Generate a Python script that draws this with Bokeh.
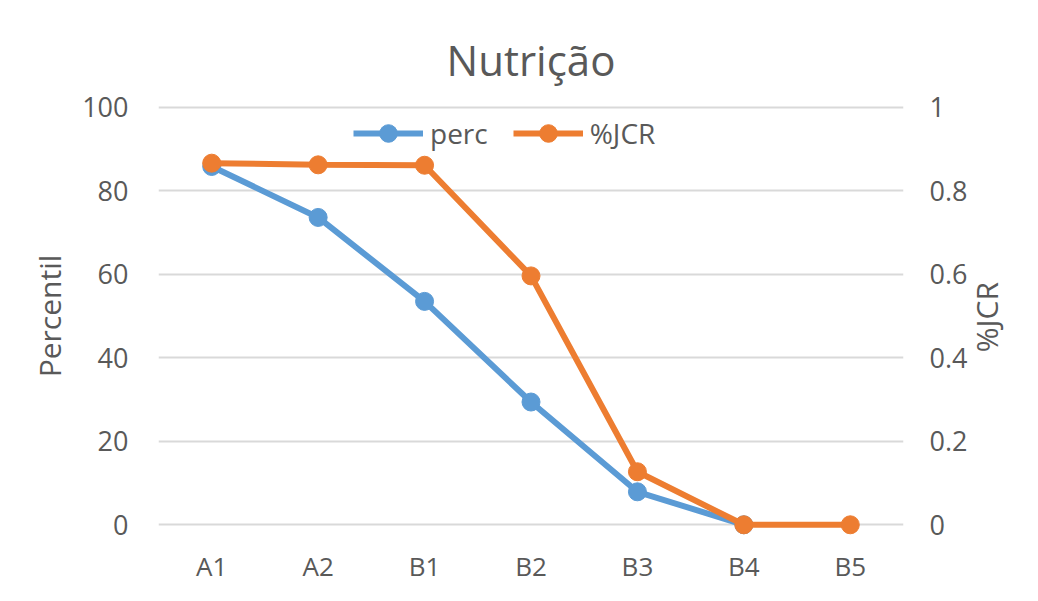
import math
from bokeh.plotting import figure
from bokeh.models import (Range1d, LinearAxis, FixedTicker, CustomJSTickFormatter,
                          Legend, LegendItem, ColumnDataSource)
from bokeh.embed import file_html
from bokeh.resources import INLINE

categories = ["A1", "A2", "B1", "B2", "B3", "B4", "B5"]
perc_cats = ["A1", "A2", "B1", "B2", "B3", "B4"]
perc = [85.8, 73.6, 53.5, 29.4, 7.9, 0.0]
jcr_cats = ["A1", "A2", "B1", "B2", "B3", "B4", "B5"]
jcr = [0.866, 0.862, 0.861, 0.596, 0.127, 0.0, 0.0]
left_ticks = [0, 20, 40, 60, 80, 100]
right_ticks = [0, 0.2, 0.4, 0.6, 0.8, 1]

BLUE = "#5B9BD5"
ORANGE = "#ED7D31"
TXT = "#595959"
GRID = "#D9D9D9"
FONT = "Open Sans"

p = figure(width=1030, height=590, x_range=categories,
           y_range=Range1d(-4, 104), output_backend="svg",
           toolbar_location=None, title="Nutrição",
           min_border_left=158, min_border_right=127,
           min_border_top=90, min_border_bottom=49)
p.x_range.range_padding = 0
p.extra_y_ranges = {"jcr": Range1d(-0.04, 1.04)}
p.outline_line_color = None
p.background_fill_color = "white"
p.border_fill_color = "white"

p.title.align = "center"
p.title.text_font = FONT
p.title.text_font_size = "42px"
p.title.text_font_style = "normal"
p.title.text_color = TXT
p.title.offset = 0
p.title.standoff = 6

p.xgrid.grid_line_color = None
p.ygrid.ticker = FixedTicker(ticks=left_ticks)
p.ygrid.grid_line_color = GRID
p.ygrid.grid_line_width = 2

# left axis
ya = p.yaxis[0]
ya.ticker = FixedTicker(ticks=left_ticks)
ya.axis_line_color = None
ya.major_tick_line_color = None
ya.minor_tick_line_color = None
ya.major_label_text_font = FONT
ya.major_label_text_font_size = "27px"
ya.major_label_text_color = TXT
ya.major_label_standoff = 24
ya.axis_label = "Percentil"
ya.axis_label_text_font = FONT
ya.axis_label_text_font_size = "30px"
ya.axis_label_text_font_style = "normal"
ya.axis_label_text_color = TXT
ya.axis_label_standoff = 9

# right axis (ticks)
ra = LinearAxis(y_range_name="jcr", ticker=FixedTicker(ticks=right_ticks),
                formatter=CustomJSTickFormatter(code="return String(Math.round(tick*10)/10)"))
ra.axis_line_color = None
ra.major_tick_line_color = None
ra.minor_tick_line_color = None
ra.major_label_text_font = FONT
ra.major_label_text_font_size = "27px"
ra.major_label_text_color = TXT
ra.major_label_standoff = 20
p.add_layout(ra, "right")

# right axis title, reading bottom-to-top like the reference
rt = LinearAxis(y_range_name="jcr", ticker=FixedTicker(ticks=[0.413]),
                formatter=CustomJSTickFormatter(code="return '%JCR'"))
rt.axis_line_color = None
rt.major_tick_line_color = None
rt.minor_tick_line_color = None
rt.major_label_orientation = math.pi / 2
rt.major_label_text_font = FONT
rt.major_label_text_font_size = "30px"
rt.major_label_text_color = TXT
rt.major_label_standoff = 10
p.add_layout(rt, "right")

# x axis
xa = p.xaxis[0]
xa.axis_line_color = None
xa.major_tick_line_color = None
xa.minor_tick_line_color = None
xa.major_label_text_font = FONT
xa.major_label_text_font_size = "26px"
xa.major_label_text_color = TXT
xa.major_label_standoff = 0

src_p = ColumnDataSource(dict(x=perc_cats, y=perc))
src_j = ColumnDataSource(dict(x=jcr_cats, y=jcr))

lp = p.line("x", "y", source=src_p, line_color=BLUE, line_width=6)
cp = p.scatter("x", "y", source=src_p, size=18, fill_color=BLUE, line_color=BLUE)
lj = p.line("x", "y", source=src_j, line_color=ORANGE, line_width=6, y_range_name="jcr")
cj = p.scatter("x", "y", source=src_j, size=18, fill_color=ORANGE, line_color=ORANGE,
               y_range_name="jcr")

legend = Legend(items=[LegendItem(label="perc", renderers=[lp, cp]),
                       LegendItem(label="%JCR", renderers=[lj, cj])],
                orientation="horizontal", location=(195, 386))
legend.border_line_color = None
legend.background_fill_alpha = 0
legend.label_text_font = FONT
legend.label_text_font_size = "28px"
legend.label_text_color = TXT
legend.glyph_width = 70
legend.glyph_height = 44
legend.spacing = 25
legend.label_standoff = 7
legend.padding = 2
legend.margin = 0
p.add_layout(legend)

open("out.html", "w").write(file_html(p, INLINE))
